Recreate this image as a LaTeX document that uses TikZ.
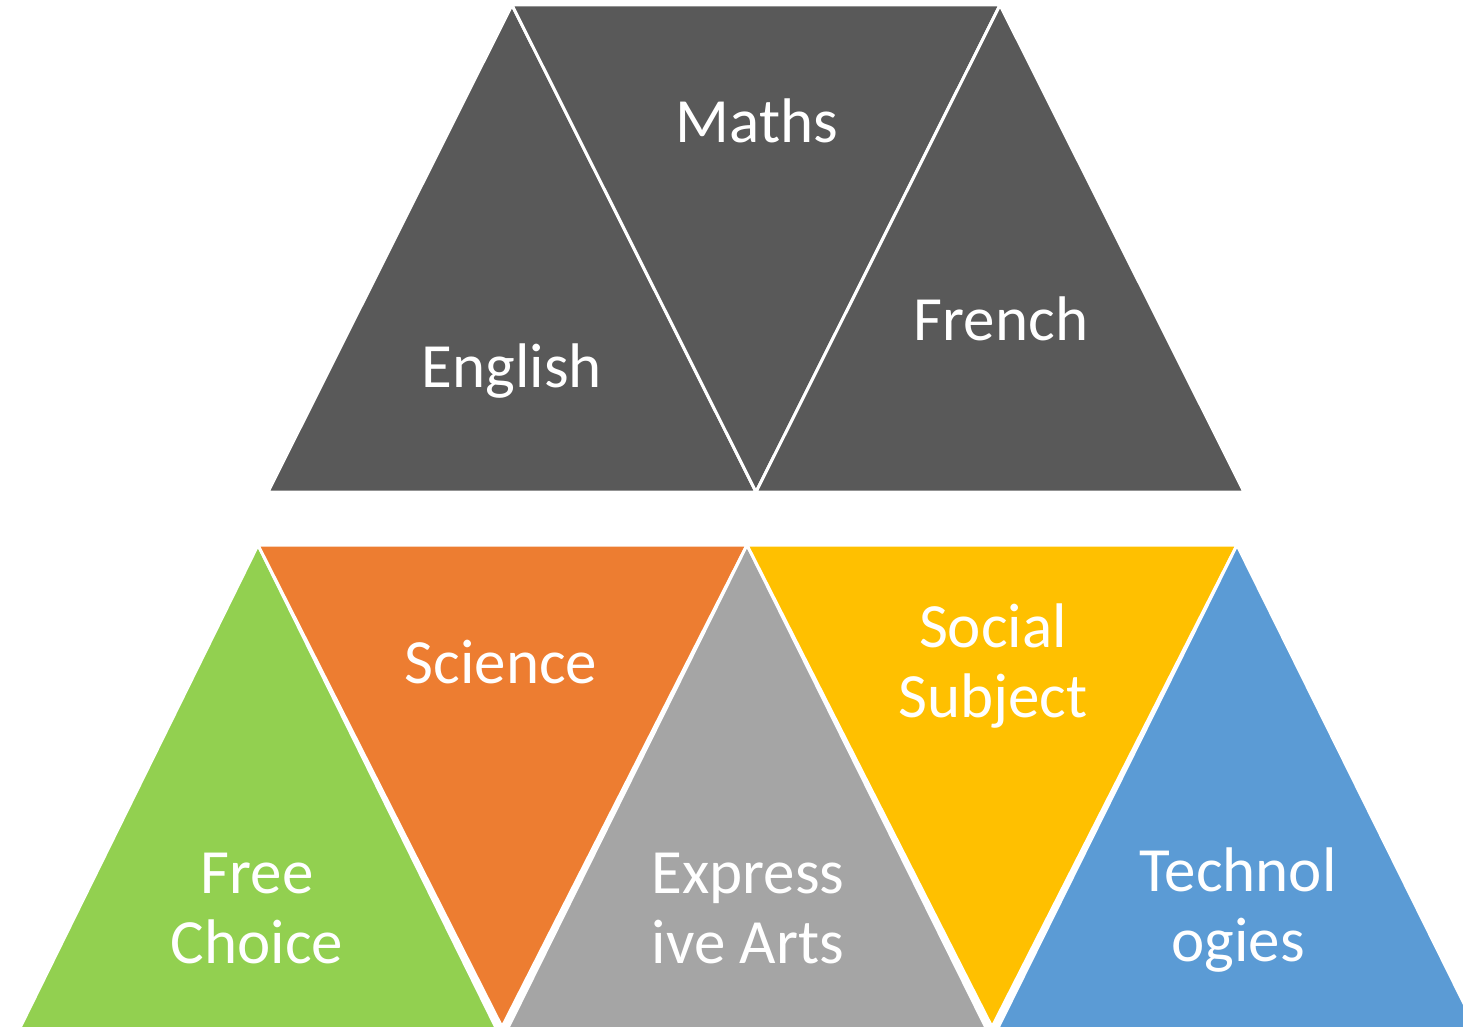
\documentclass[tikz,border=0pt]{standalone}
\usepackage{fontspec}
\setmainfont{Carlito}
\definecolor{slate}{HTML}{595959}
\definecolor{leaf}{HTML}{92D050}
\definecolor{carrot}{HTML}{ED7D31}
\definecolor{stone}{HTML}{A5A5A5}
\definecolor{gold}{HTML}{FFC000}
\definecolor{sky}{HTML}{5B9BD5}

\begin{document}
\begin{tikzpicture}[x=1pt,y=-1pt,
  tri/.style={draw=white,line width=3pt},
  subj/.style={text=white,font=\fontsize{63}{70}\selectfont,align=center,anchor=base,inner sep=0pt}]
\useasboundingbox (0,0) rectangle (1463,1027);
\clip (0,0) rectangle (1463,1027);
\filldraw[tri,fill=slate] (268,492) -- (756,492) -- (512,5) -- cycle;
\filldraw[tri,fill=slate] (512,5) -- (1000,5) -- (756,492) -- cycle;
\filldraw[tri,fill=slate] (756,492) -- (1244,492) -- (1000,5) -- cycle;
\filldraw[tri,fill=leaf] (14,1040) -- (502,1040) -- (258,545) -- cycle;
\filldraw[tri,fill=carrot] (258,545) -- (747,545) -- (502,1027) -- cycle;
\filldraw[tri,fill=stone] (502,1040) -- (992,1040) -- (747,545) -- cycle;
\filldraw[tri,fill=gold] (747,545) -- (1237,545) -- (992,1027) -- cycle;
\filldraw[tri,fill=sky] (992,1040) -- (1482,1040) -- (1237,545) -- cycle;
\node[subj] (maths) at (757,143) {Maths};
\node[subj] (english) at (512,387) {English};
\node[subj] (french) at (1001,340) {French};
\node[subj] (science) at (501,683) {Science};
\node[subj] (social) at (993,717) {Social\\Subject};
\node[subj] (free) at (257,963) {Free\\Choice};
\node[subj] (expressive) at (748,963) {Express\\ive Arts};
\node[subj] (tech) at (1238,961) {Technol\\ogies};
\end{tikzpicture}
\end{document}
